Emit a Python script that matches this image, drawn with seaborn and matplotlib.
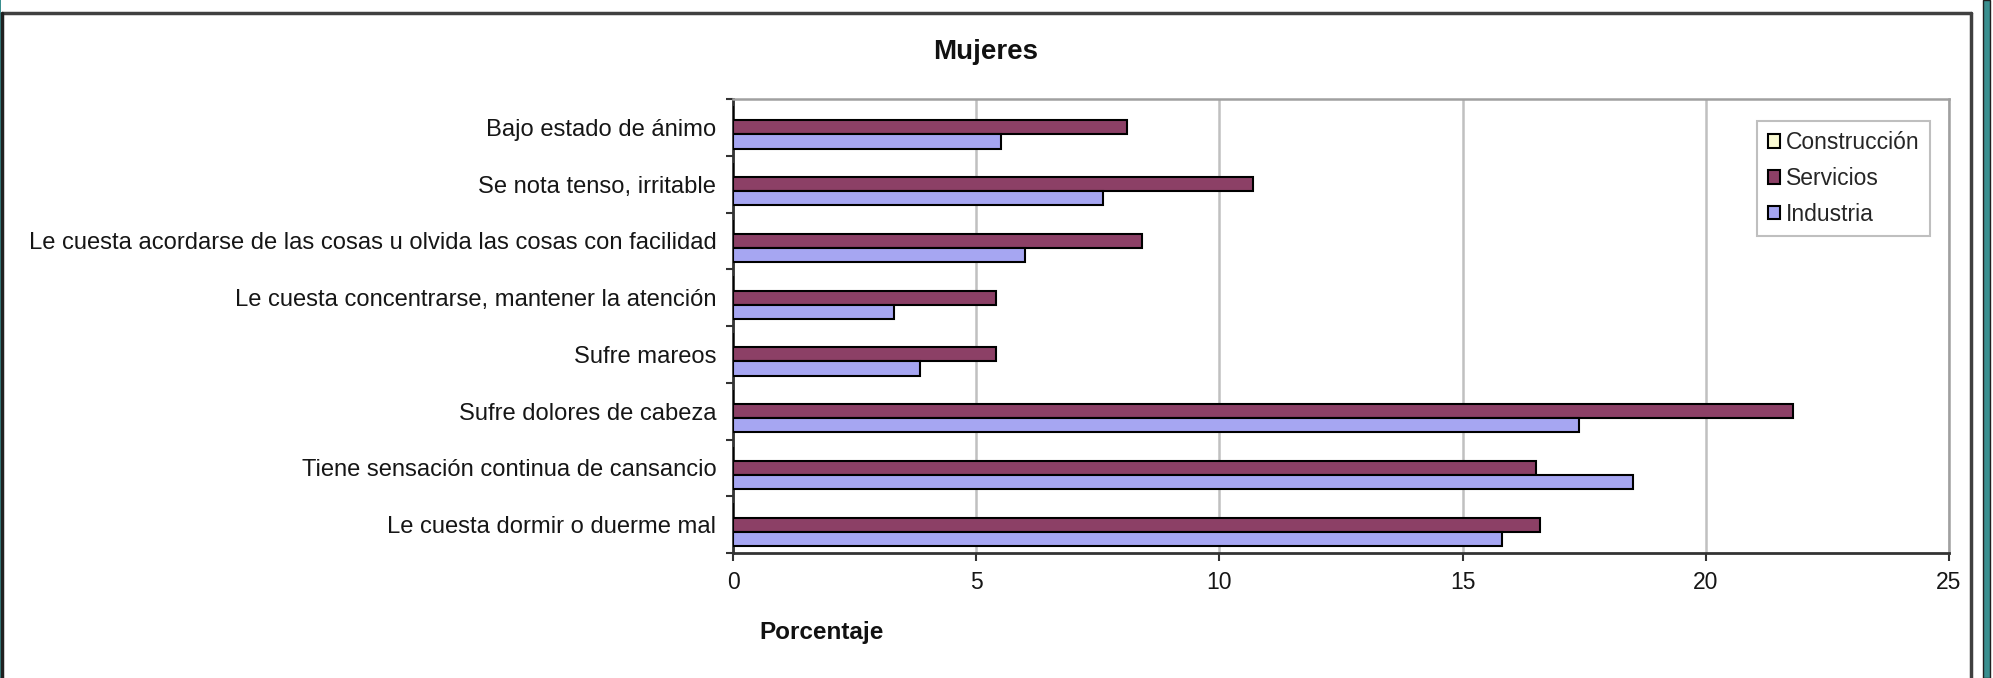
import numpy as np
import pandas as pd
import matplotlib
matplotlib.use('Agg')
import matplotlib.pyplot as plt
from matplotlib.lines import Line2D
from matplotlib.patches import Rectangle
import seaborn as sns

# Data (porcentaje de mujeres con cada síntoma, por sector)
sintomas = [
    'Bajo estado de ánimo',
    'Se nota tenso, irritable',
    'Le cuesta acordarse de las cosas u olvida las cosas con facilidad',
    'Le cuesta concentrarse, mantener la atención',
    'Sufre mareos',
    'Sufre dolores de cabeza',
    'Tiene sensación continua de cansancio',
    'Le cuesta dormir o duerme mal',
]
sectores = ['Construcción', 'Servicios', 'Industria']
construccion = [0, 0, 0, 0, 0, 0, 0, 0]
servicios = [8.1, 10.7, 8.4, 5.4, 5.4, 21.8, 16.5, 16.6]
industria = [5.5, 7.6, 6.0, 3.3, 3.85, 17.4, 18.5, 15.8]
colores = {'Construcción': '#FFFFCC', 'Servicios': '#993366', 'Industria': '#9999FF'}

df = pd.DataFrame({
    'sintoma': sintomas * 3,
    'sector': np.repeat(sectores, len(sintomas)),
    'valor': construccion + servicios + industria,
})

sns.set_style('white')
plt.rcParams['font.family'] = ['Liberation Sans', 'DejaVu Sans']

W, H = 1993, 678
fig = plt.figure(figsize=(W / 100, H / 100), dpi=100)
ax = fig.add_axes([733 / W, 1 - 553 / H, (1949 - 733) / W, (553 - 99) / H])

ax.xaxis.grid(True, color='#c0c0c0', linewidth=1.8, zorder=0)
ax.set_axisbelow(True)
sns.barplot(data=df, x='valor', y='sintoma', hue='sector', hue_order=sectores,
            order=sintomas, orient='h', palette=colores, edgecolor='black',
            linewidth=1.5, width=0.75, errorbar=None, ax=ax, zorder=3)

ax.set_xlim(0, 25)
ax.set_xticks([0, 5, 10, 15, 20, 25])
ax.set_ylim(7.5, -0.5)
ax.set_yticks(np.arange(-0.5, 8, 1), minor=True)
ax.tick_params(axis='y', which='major', length=0, pad=12, labelsize=17.1, labelcolor='#161616')
ax.tick_params(axis='y', which='minor', length=5, width=1.5, direction='out', color='#333333', left=True)
ax.tick_params(axis='x', length=6, width=1.5, direction='out', color='#333333',
               pad=7, labelsize=16.5, labelcolor='#161616', bottom=True)
ax.set_xlabel('')
ax.set_ylabel('')

for side in ['left', 'bottom']:
    ax.spines[side].set_color('#333333')
    ax.spines[side].set_linewidth(2)
for side in ['top', 'right']:
    ax.spines[side].set_color('#a0a0a0')
    ax.spines[side].set_linewidth(1.8)

leg = ax.legend(loc='upper right', bbox_to_anchor=(1930 / W, 1 - 121 / H),
                bbox_transform=fig.transFigure, fontsize=16.5, frameon=True,
                fancybox=False, edgecolor='#b0b0b0', handlelength=0.55,
                handleheight=0.55, handletextpad=0.25, labelspacing=0.55,
                borderpad=0.45, borderaxespad=0)
leg.get_frame().set_linewidth(1.5)
for h in leg.legend_handles:
    h.set_edgecolor('black')
    h.set_linewidth(1.5)

fig.text(986 / W, 1 - 52 / H, 'Mujeres', ha='center', va='center',
         fontsize=20, fontweight='bold', color='#111111')
fig.text(759 / W, 1 - 633 / H, 'Porcentaje', ha='left', va='center',
         fontsize=17.5, fontweight='bold', color='#111111')

# marco exterior del gráfico
fig.add_artist(Line2D([2 / W, 1971 / W], [1 - 13 / H, 1 - 13 / H],
                      transform=fig.transFigure, color='#404040', linewidth=2.5))
fig.add_artist(Line2D([1971 / W, 1971 / W], [0, 1 - 13 / H],
                      transform=fig.transFigure, color='#404040', linewidth=2.5))
fig.add_artist(Line2D([2 / W, 2 / W], [0, 1 - 13 / H],
                      transform=fig.transFigure, color='#202020', linewidth=2.5))
fig.add_artist(Rectangle((0, 0), 1.2 / W, 1, transform=fig.transFigure,
                         color='#3a8f8f', linewidth=0))
fig.add_artist(Rectangle((1983 / W, 0), 7 / W, 1, transform=fig.transFigure,
                         facecolor='#3a8f8f', edgecolor='#202020', linewidth=1))

fig.savefig('out.png', dpi=100)
